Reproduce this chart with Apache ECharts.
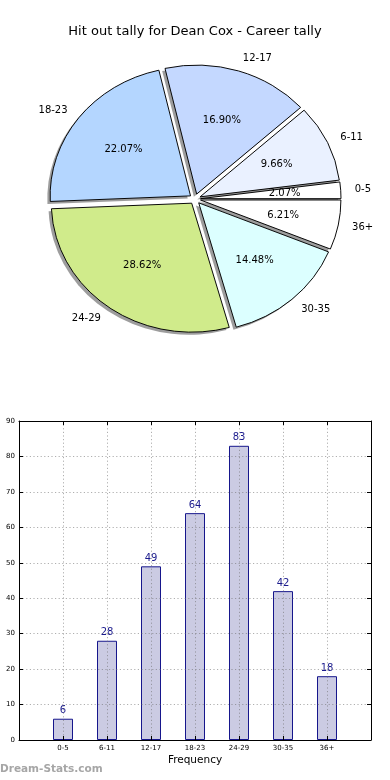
<!DOCTYPE html>
<html>
<head>
<meta charset="utf-8">
<script src="https://cdn.jsdelivr.net/npm/echarts@6/dist/echarts.min.js"></script>
<style>
  html, body { margin: 0; padding: 0; background: #ffffff; }
  #chart { width: 390px; height: 780px; }
</style>
</head>
<body>
<div id="chart"></div>
<script>
// ---- data ----
const categories = ['0-5', '6-11', '12-17', '18-23', '24-29', '30-35', '36+'];
const values = [6, 28, 49, 64, 83, 42, 18];
const pieColors = ['#ffffff', '#eaf1ff', '#c4d8ff', '#b4d6ff', '#d0eb8b', '#dcffff', '#ffffff'];
const titleText = 'Hit out tally for Dean Cox - Career tally';
const xAxisName = 'Frequency';
const watermark = 'Dream-Stats.com';

// ---- pie geometry (style) ----
const PIE = { cy: 199, rx: 140.4, ry: 129, explode: 0.04, labelDist: 1.1, pctDist: 0.6,
              shadowDx: -2.8, shadowDy: 2.6 };
const FONT = '"DejaVu Sans", "Liberation Sans", sans-serif';

const total = values.reduce((a, b) => a + b, 0);
const startFrac = [];
values.reduce((acc, v, i) => { startFrac[i] = acc; return acc + v; }, 0);

function wedgeGeom(api, i, v) {
  const a0 = startFrac[i] / total * Math.PI * 2;
  const a1 = a0 + v / total * Math.PI * 2;
  const mid = (a0 + a1) / 2;
  const cx = api.getWidth() / 2;
  const ox = cx + PIE.explode * PIE.rx * Math.cos(mid);
  const oy = PIE.cy - PIE.explode * PIE.ry * Math.sin(mid);
  return { a0, a1, mid, ox, oy };
}

function pieShadow(params, api) {
  const i = params.dataIndex;
  const g = wedgeGeom(api, i, api.value(0));
  return {
    type: 'sector',
    x: g.ox + PIE.shadowDx, y: g.oy + PIE.shadowDy,
    scaleY: PIE.ry / PIE.rx,
    shape: { cx: 0, cy: 0, r: PIE.rx, r0: 0, startAngle: -g.a1, endAngle: -g.a0, clockwise: true },
    style: { fill: 'rgba(60,60,60,0.5)' },
    silent: true
  };
}

function pieWedge(params, api) {
  const i = params.dataIndex;
  const v = api.value(0);
  const g = wedgeGeom(api, i, v);
  const lx = g.ox + PIE.rx * PIE.labelDist * Math.cos(g.mid);
  const ly = g.oy - PIE.ry * PIE.labelDist * Math.sin(g.mid);
  const px = g.ox + PIE.rx * PIE.pctDist * Math.cos(g.mid);
  const py = g.oy - PIE.ry * PIE.pctDist * Math.sin(g.mid);
  return {
    type: 'group',
    children: [
      {
        type: 'sector',
        x: g.ox, y: g.oy,
        scaleY: PIE.ry / PIE.rx,
        shape: { cx: 0, cy: 0, r: PIE.rx, r0: 0, startAngle: -g.a1, endAngle: -g.a0, clockwise: true },
        style: { fill: pieColors[i], stroke: '#000000', lineWidth: 1, strokeNoScale: true }
      },
      {
        type: 'text', x: lx, y: ly,
        style: { text: categories[i], font: '10px ' + FONT, fill: '#000000',
                 align: Math.cos(g.mid) > 0 ? 'left' : 'right', verticalAlign: 'middle' }
      },
      {
        type: 'text', x: px, y: py, z2: 10,
        style: { text: (v / total * 100).toFixed(2) + '%', font: '10px ' + FONT, fill: '#000000',
                 align: 'center', verticalAlign: 'middle' }
      }
    ]
  };
}

const barData = values.map((v, i) => [i, v]);
const gridLine = { show: true, lineStyle: { color: 'rgba(110,110,110,0.55)', type: [1.2, 2.4], width: 1 } };

const chart = echarts.init(document.getElementById('chart'), null, { renderer: 'canvas' });
chart.setOption({
  animation: false,
  backgroundColor: '#ffffff',
  textStyle: { fontFamily: FONT },
  title: {
    text: titleText, left: 'center', top: 20,
    textStyle: { fontSize: 13, fontWeight: 'normal', color: '#000000', fontFamily: FONT }
  },
  grid: { left: 19, right: 19, top: 421, bottom: 40, containLabel: false, outerBoundsMode: 'none' },
  xAxis: [
    {
      type: 'value', min: -1, max: 7, interval: 1, position: 'bottom', z: 5,
      axisLine: { show: true, onZero: false, lineStyle: { color: '#000000', width: 1 } },
      axisTick: { show: true, inside: true, length: 4, lineStyle: { color: '#000000' } },
      axisLabel: { fontSize: 7, color: '#000000', margin: 5,
                   formatter: v => (categories[v] !== undefined ? categories[v] : '') },
      splitLine: gridLine,
      name: xAxisName, nameLocation: 'middle', nameGap: 15,
      nameTextStyle: { fontSize: 10.5, color: '#000000' }
    },
    {
      type: 'value', min: -1, max: 7, interval: 1, position: 'top', z: 5,
      axisLine: { show: true, onZero: false, lineStyle: { color: '#000000', width: 1 } },
      axisTick: { show: true, inside: true, length: 4, lineStyle: { color: '#000000' } },
      axisLabel: { show: false },
      splitLine: { show: false }
    }
  ],
  yAxis: [
    {
      type: 'value', min: 0, max: 90, interval: 10, position: 'left', z: 5,
      axisLine: { show: true, onZero: false, lineStyle: { color: '#000000', width: 1 } },
      axisTick: { show: true, inside: true, length: 4, lineStyle: { color: '#000000' } },
      axisLabel: { fontSize: 7, color: '#000000', margin: 4 },
      splitLine: gridLine
    },
    {
      type: 'value', min: 0, max: 90, interval: 10, position: 'right', z: 5,
      axisLine: { show: true, onZero: false, lineStyle: { color: '#000000', width: 1 } },
      axisTick: { show: true, inside: true, length: 4, lineStyle: { color: '#000000' } },
      axisLabel: { show: false },
      splitLine: { show: false }
    }
  ],
  graphic: [
    {
      type: 'text', left: 0, top: 764,
      style: { text: watermark, font: 'bold 10.5px ' + FONT, fill: '#a6a6a6' }
    }
  ],
  series: [
    { type: 'custom', name: 'shadow', coordinateSystem: 'none', renderItem: pieShadow, data: values, z: 1, silent: true },
    { type: 'custom', name: 'pie', coordinateSystem: 'none', renderItem: pieWedge, data: values, z: 2 },
    {
      type: 'bar', name: 'Frequency', xAxisIndex: 0, yAxisIndex: 0, data: barData, barWidth: 20, z: 2,
      itemStyle: { color: '#cbcbe3', borderColor: '#16168c', borderWidth: 1 },
      label: { show: true, position: 'top', distance: 3, fontSize: 10, color: '#1a1a8c',
               formatter: p => p.value[1] }
    }
  ]
});
</script>
</body>
</html>
